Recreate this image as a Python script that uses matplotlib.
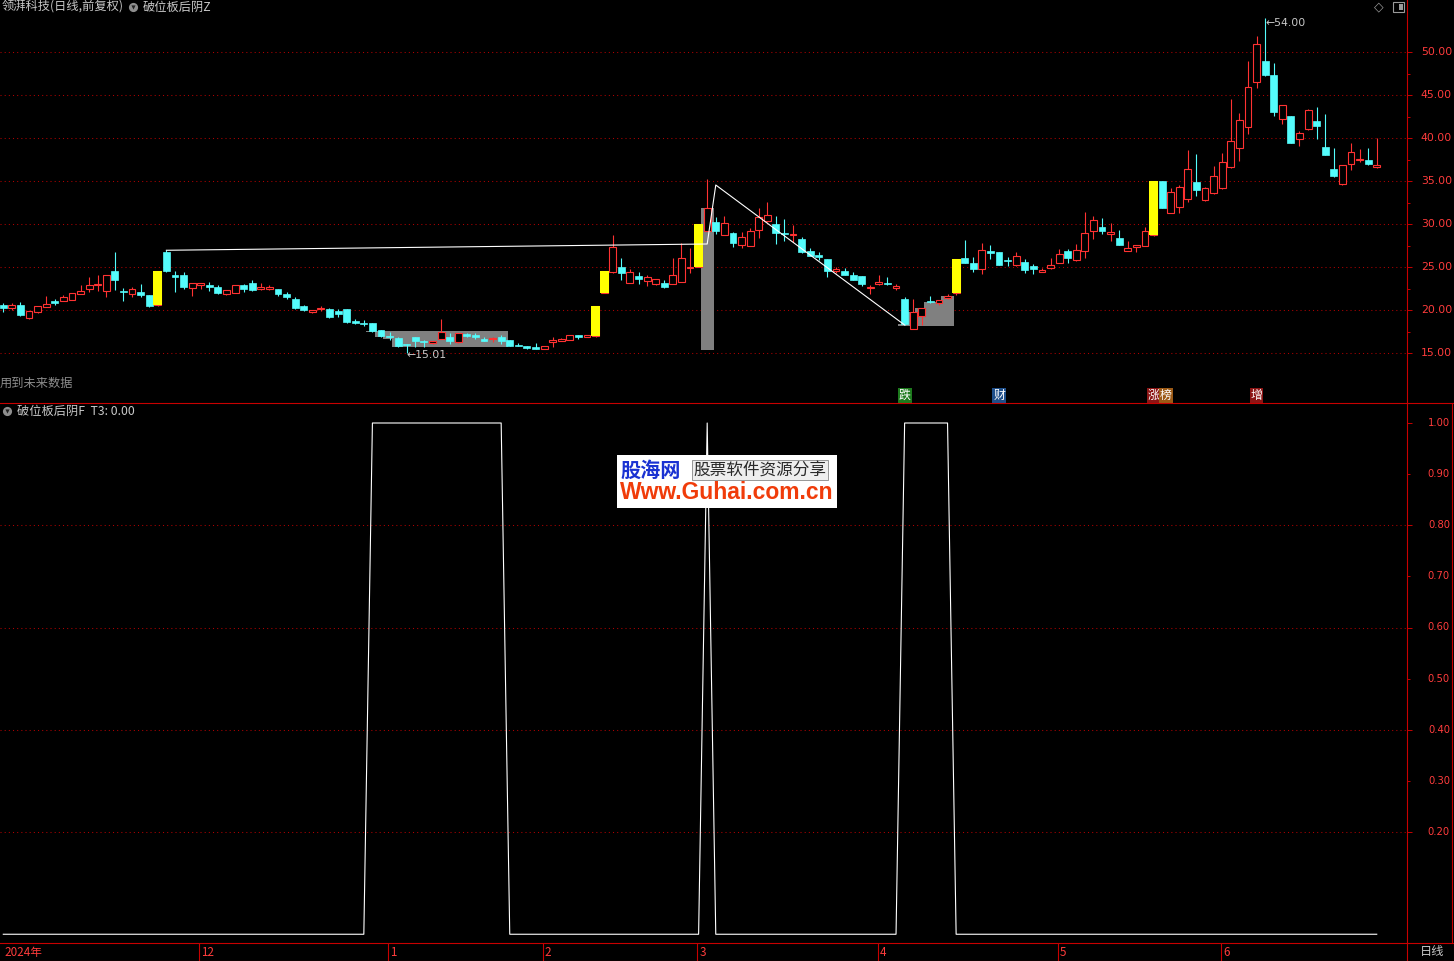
import matplotlib
matplotlib.use('Agg')
import numpy as np
import matplotlib.pyplot as plt
import matplotlib.transforms as mtrans
from matplotlib.patches import Rectangle
from matplotlib.lines import Line2D

plt.rcParams['font.family'] = ['Noto Sans CJK SC', 'DejaVu Sans']

# daily bars (front-adjusted), one entry per trading day
opens = [20.62, 20.30, 20.62, 19.15, 19.84, 20.43, 21.09, 21.12, 21.20, 21.94,
         22.52, 22.90, 22.29, 24.57, 22.25, 21.94, 22.13, 21.78, 20.62, 26.78,
         24.10, 24.10, 22.64, 22.98, 22.95, 22.71, 21.94, 22.05, 22.95, 23.20,
         22.48, 22.48, 22.48, 21.90, 21.32, 20.50, 19.77, 20.12, 20.16, 19.96,
         20.16, 18.76, 18.57, 18.49, 17.71, 17.02, 16.78, 16.05, 16.90, 16.43,
         16.24, 16.67, 16.94, 16.36, 17.25, 17.09, 16.63, 16.63, 16.90, 16.55,
         15.93, 15.85, 15.78, 15.54, 16.28, 16.40, 16.59, 17.13, 16.86, 17.05,
         21.98, 24.50, 25.00, 23.22, 23.99, 23.37, 23.10, 23.14, 23.10, 23.33,
         24.88, 25.08, 29.26, 30.23, 28.76, 28.95, 27.56, 27.48, 29.30, 30.35,
         30.04, 29.03, 28.72, 28.26, 26.90, 26.47, 25.93, 24.53, 24.57, 24.11,
         23.99, 22.56, 23.02, 23.14, 22.64, 21.32, 17.87, 19.38, 21.12, 20.89,
         21.43, 22.00, 26.12, 25.50, 24.77, 26.94, 26.78, 25.85, 25.23, 25.58,
         25.16, 24.50, 24.88, 25.54, 26.90, 25.89, 26.94, 29.26, 29.69, 28.88,
         28.41, 26.94, 27.33, 27.52, 28.76, 35.04, 31.36, 31.98, 32.98, 34.92,
         32.80, 33.60, 34.19, 36.63, 38.84, 41.28, 46.51, 48.99, 47.36, 42.21,
         42.60, 39.88, 41.05, 42.02, 39.03, 36.43, 34.65, 36.98, 37.48, 37.48,
         36.63]
highs = [20.81, 20.85, 20.97, 19.95, 20.50, 21.67, 21.32, 21.82, 22.00, 22.95,
         23.88, 24.10, 24.10, 26.78, 22.60, 22.67, 23.06, 21.80, 24.60, 26.98,
         24.57, 24.46, 23.14, 23.14, 23.29, 22.90, 22.35, 22.95, 23.10, 23.50,
         23.14, 22.95, 22.50, 22.09, 21.51, 20.62, 20.05, 20.50, 20.28, 20.16,
         20.20, 18.99, 18.84, 18.50, 17.75, 17.44, 16.94, 16.05, 16.90, 16.60,
         16.45, 18.99, 17.33, 17.35, 17.40, 17.40, 16.94, 16.85, 17.13, 16.56,
         16.20, 15.86, 16.20, 15.86, 16.90, 16.82, 17.14, 17.14, 17.14, 20.50,
         24.60, 28.76, 26.09, 24.81, 24.46, 24.10, 23.62, 23.49, 26.09, 27.79,
         27.25, 30.05, 35.23, 30.81, 30.97, 29.15, 29.11, 29.57, 31.90, 32.56,
         30.97, 30.58, 29.92, 28.53, 27.21, 26.82, 26.00, 24.99, 24.96, 24.40,
         24.00, 22.95, 24.11, 23.88, 23.10, 21.59, 21.36, 20.28, 21.67, 21.22,
         21.94, 26.00, 28.18, 26.16, 27.79, 27.60, 26.80, 26.24, 26.78, 25.97,
         25.39, 24.96, 26.09, 27.13, 27.09, 27.71, 31.43, 30.97, 30.74, 30.16,
         29.34, 28.06, 27.58, 29.65, 35.05, 35.05, 34.22, 34.60, 38.64, 38.18,
         34.30, 36.78, 38.26, 44.53, 42.91, 48.99, 51.90, 54.00, 48.72, 43.85,
         42.62, 40.85, 43.45, 43.64, 42.83, 38.88, 36.87, 39.42, 38.76, 38.88,
         40.00]
lows = [19.84, 20.00, 19.34, 19.00, 19.65, 20.40, 20.62, 21.10, 21.20, 21.90,
        22.17, 22.29, 21.59, 22.36, 21.12, 21.59, 21.59, 20.43, 20.55, 24.50,
        22.17, 22.48, 21.70, 22.52, 22.29, 21.90, 21.78, 22.00, 22.17, 22.30,
        22.36, 22.36, 21.70, 21.32, 20.16, 19.88, 19.65, 19.92, 19.15, 19.26,
        18.49, 18.45, 18.22, 17.52, 16.95, 16.55, 15.78, 15.01, 15.78, 15.78,
        16.12, 16.67, 16.12, 16.24, 16.90, 16.63, 16.45, 16.36, 16.12, 15.84,
        15.80, 15.50, 15.52, 15.53, 15.78, 16.38, 16.58, 16.70, 16.85, 16.90,
        21.98, 24.38, 23.53, 23.20, 23.06, 22.87, 22.98, 22.64, 23.08, 23.30,
        24.38, 25.00, 29.20, 28.84, 28.70, 27.33, 27.30, 27.45, 28.45, 30.30,
        27.67, 28.10, 27.98, 26.70, 26.30, 25.90, 23.84, 24.30, 24.10, 23.50,
        22.87, 21.90, 23.00, 22.95, 22.36, 18.29, 17.87, 18.29, 20.90, 20.62,
        21.30, 21.80, 25.45, 24.50, 24.19, 25.97, 25.30, 25.19, 25.20, 24.38,
        24.26, 24.48, 24.85, 25.50, 25.54, 25.70, 26.12, 28.33, 28.91, 28.10,
        27.55, 26.90, 26.82, 27.50, 28.60, 31.85, 31.30, 31.30, 32.64, 33.33,
        32.75, 33.50, 34.10, 36.60, 37.40, 40.54, 45.81, 47.21, 42.60, 41.63,
        39.40, 39.15, 41.00, 39.88, 38.05, 35.54, 34.60, 36.36, 37.25, 36.90,
        36.60]
closes = [20.27, 20.60, 19.46, 19.92, 20.47, 20.74, 20.85, 21.51, 21.98, 22.25,
          22.90, 23.10, 24.10, 23.57, 22.10, 22.44, 21.82, 20.54, 24.57, 24.57,
          23.90, 22.75, 23.14, 23.14, 22.75, 22.05, 22.33, 22.95, 22.48, 22.40,
          22.67, 22.67, 21.86, 21.59, 20.31, 20.04, 20.04, 20.31, 19.26, 19.61,
          18.68, 18.57, 18.37, 17.64, 17.02, 16.86, 15.85, 15.93, 16.47, 16.28,
          16.43, 17.48, 16.47, 17.33, 17.02, 16.94, 16.47, 16.82, 16.47, 15.85,
          15.81, 15.62, 15.54, 15.85, 16.55, 16.67, 17.13, 16.90, 17.13, 20.50,
          24.57, 27.33, 24.38, 24.42, 23.68, 23.84, 23.60, 22.75, 24.07, 26.05,
          25.08, 30.04, 31.86, 29.26, 30.12, 27.87, 28.57, 29.19, 30.89, 31.05,
          28.95, 28.84, 28.88, 26.74, 26.36, 26.24, 24.61, 24.81, 24.15, 23.57,
          23.10, 22.75, 23.29, 23.02, 22.83, 18.37, 19.77, 20.27, 20.97, 21.20,
          21.67, 25.97, 25.50, 24.81, 27.02, 26.71, 25.31, 25.70, 26.28, 24.73,
          24.84, 24.69, 25.23, 26.51, 26.12, 27.02, 28.95, 30.47, 29.22, 29.07,
          27.60, 27.25, 27.56, 29.22, 35.04, 31.94, 33.72, 34.30, 36.40, 34.03,
          34.19, 35.62, 37.21, 39.65, 42.09, 45.93, 50.93, 47.40, 43.02, 43.84,
          39.50, 40.58, 43.26, 41.47, 38.10, 35.66, 36.86, 38.37, 37.64, 37.05,
          36.90]

# yellow sticks (limit-up boards)
limit_days = [18, 69, 70, 81, 111, 134]
limit_bottom = [20.62, 17.05, 21.98, 25.08, 22.00, 28.76]
limit_top = [24.57, 20.50, 24.57, 30.04, 25.97, 35.04]

# grey sticks
box_days = [43, 44, 45, 46, 47, 48, 49, 50, 51, 52, 53, 54, 55, 56, 57, 58,
            82, 105, 106, 107, 108, 109, 110]
box_bottom = [17.52, 16.94, 16.67, 15.78, 15.78, 15.78, 15.78, 15.78, 15.78, 15.78,
              15.78, 15.78, 15.78, 15.78, 15.78, 15.78, 15.38, 18.21, 18.21, 18.21,
              18.21, 18.21, 18.21]
box_top = [17.64, 17.64, 17.64, 17.64, 17.64, 17.64, 17.64, 17.64, 17.64, 17.64,
           17.64, 17.64, 17.64, 17.64, 17.64, 17.64, 31.93, 18.37, 19.77, 20.30,
           20.93, 20.93, 21.66]

# white drawn line
trend_days = [19, 82, 83, 105]
trend_prices = [26.98, 27.71, 34.57, 18.29]

# lower pane: 破位板后阴F
signal = [0, 0, 0, 0, 0, 0, 0, 0, 0, 0, 0, 0, 0, 0, 0, 0, 0, 0, 0, 0,
          0, 0, 0, 0, 0, 0, 0, 0, 0, 0, 0, 0, 0, 0, 0, 0, 0, 0, 0, 0,
          0, 0, 0, 1, 1, 1, 1, 1, 1, 1, 1, 1, 1, 1, 1, 1, 1, 1, 1, 0,
          0, 0, 0, 0, 0, 0, 0, 0, 0, 0, 0, 0, 0, 0, 0, 0, 0, 0, 0, 0,
          0, 0, 1, 0, 0, 0, 0, 0, 0, 0, 0, 0, 0, 0, 0, 0, 0, 0, 0, 0,
          0, 0, 0, 0, 0, 1, 1, 1, 1, 1, 1, 0, 0, 0, 0, 0, 0, 0, 0, 0,
          0, 0, 0, 0, 0, 0, 0, 0, 0, 0, 0, 0, 0, 0, 0, 0, 0, 0, 0, 0,
          0, 0, 0, 0, 0, 0, 0, 0, 0, 0, 0, 0, 0, 0, 0, 0, 0, 0, 0, 0,
          0]

price_levels = [15, 20, 25, 30, 35, 40, 45, 50]
signal_levels = [0.2, 0.3, 0.4, 0.5, 0.6, 0.7, 0.8, 0.9, 1.0]

month_days = [0, 23, 45, 63, 81, 102, 123, 142]
month_names = ['2024年', '12', '1', '2', '3', '4', '5', '6']

badge_days = [105, 116, 134, 134, 146]
badge_text = ['跌', '财', '涨', '榜', '增']
badge_colors = ['#1d7a1d', '#1f4f8a', '#8c1515', '#9c5a16', '#8c1515']

UP = '#ff3232'
DOWN = '#54fcfc'
AXRED = '#c80000'
GRID = '#b00000'
LBL = '#ff3c3c'
TXT = '#c8c8c8'

W, H = 1454, 961
X0, STEP = 3.3, 8.584


def px2idx(px):
    return (px - X0) / STEP


def price_at(py):
    return 50 - (py - 52.3) / 8.6


def sig_at(py):
    return 1 - (py - 423) / 511.25


def fx(px):
    return px / W


def fy(py):
    return 1 - py / H


fig = plt.figure(figsize=(W / 100, H / 100), dpi=100, facecolor='black')
ax1 = fig.add_axes([0, fy(403), fx(1407), 403 / H], facecolor='black')
ax2 = fig.add_axes([0, fy(943), fx(1407), 539.5 / H], facecolor='black')
ax3 = fig.add_axes([0, 0, 1, 18 / H], facecolor='black')

ax1.set_xlim(px2idx(0), px2idx(1407))
ax1.set_ylim(price_at(403), price_at(0))
ax2.set_xlim(px2idx(0), px2idx(1407))
ax2.set_ylim(sig_at(943), sig_at(403.5))
ax3.set_xlim(px2idx(0), px2idx(W))
ax3.set_ylim(0, 1)

for ax in (ax1, ax2, ax3):
    for s in ax.spines.values():
        s.set_visible(False)
    ax.set_xticks([])
ax3.set_yticks([])
for ax in (ax1, ax2):
    ax.spines['right'].set_visible(True)
    ax.spines['right'].set_color(AXRED)
    ax.spines['right'].set_linewidth(0.8)
    ax.yaxis.set_ticks_position('right')
for side in ('top', 'bottom'):
    ax3.spines[side].set_visible(True)
    ax3.spines[side].set_color(AXRED)
    ax3.spines[side].set_linewidth(0.8)

# ---- price pane
ax1.set_yticks(price_levels)
ax1.set_yticks([p + 2.5 for p in price_levels[:-1]], minor=True)
ax1.tick_params(axis='y', which='major', length=3.6, width=0.7, color=AXRED,
                labelright=False, labelleft=False)
ax1.tick_params(axis='y', which='minor', length=2, width=0.7, color=AXRED,
                labelright=False, labelleft=False)
ax1.hlines(price_levels, px2idx(0), px2idx(1407), colors=GRID, lw=0.75,
           linestyles=(0, (1, 3)), zorder=0)
tr1 = mtrans.blended_transform_factory(fig.transFigure, ax1.transData)
for p in price_levels:
    ax1.text(fx(1452), p, f'{p:.2f}', transform=tr1, ha='right', va='center',
             color=LBL, fontsize=7.8, family='DejaVu Sans')

for d, lo, hi in zip(box_days, box_bottom, box_top):
    ax1.add_patch(Rectangle((d - 0.755, lo), 1.51, hi - lo, facecolor='#808080',
                            edgecolor='none', zorder=1))

for i, (o, h, l, c) in enumerate(zip(opens, highs, lows, closes)):
    if c >= o:
        ax1.vlines(i, l, h, color=UP, lw=0.8, zorder=2)
        ax1.add_patch(Rectangle((i - 0.4, o), 0.8, c - o, facecolor='black',
                                edgecolor=UP, lw=0.8, zorder=3))
    else:
        ax1.vlines(i, l, h, color=DOWN, lw=0.8, zorder=2)
        ax1.add_patch(Rectangle((i - 0.4, c), 0.8, o - c, facecolor=DOWN,
                                edgecolor=DOWN, lw=0.5, zorder=3))

for d, lo, hi in zip(limit_days, limit_bottom, limit_top):
    ax1.add_patch(Rectangle((d - 0.52, lo), 1.04, hi - lo, facecolor='#ffff00',
                            edgecolor='none', zorder=4))

ax1.plot(trend_days, trend_prices, color='white', lw=0.8, zorder=5)

lo_i = int(np.argmin(lows))
hi_i = int(np.argmax(highs))
ax1.annotate(f'←{lows[lo_i]:.2f}', (lo_i, lows[lo_i]), xytext=(0, -1.4),
             textcoords='offset points', ha='left', va='center', color=TXT,
             fontsize=7.8, family='DejaVu Sans', zorder=6)
ax1.annotate(f'←{highs[hi_i]:.2f}', (hi_i, highs[hi_i]), xytext=(0, -3.9),
             textcoords='offset points', ha='left', va='center', color=TXT,
             fontsize=7.8, family='DejaVu Sans', zorder=6)

trb = mtrans.blended_transform_factory(ax1.transData, fig.transFigure)
prev = None
for d, t, col in zip(badge_days, badge_text, badge_colors):
    x = d + (12.5 / STEP if d == prev else 0)
    ax1.text(x, fy(395.5), t, transform=trb, ha='center', va='center',
             color='white', fontsize=8.6, zorder=6,
             bbox=dict(boxstyle='square,pad=0.08', facecolor=col, edgecolor='none'))
    prev = d

# ---- signal pane
ax2.set_yticks([0.2, 0.4, 0.6, 0.8, 1.0])
ax2.set_yticks([0.3, 0.5, 0.7, 0.9], minor=True)
ax2.tick_params(axis='y', which='major', length=3.8, width=0.7, color=AXRED,
                labelright=False, labelleft=False)
ax2.tick_params(axis='y', which='minor', length=2, width=0.7, color=AXRED,
                labelright=False, labelleft=False)
ax2.hlines([0.2, 0.4, 0.6, 0.8], px2idx(0), px2idx(1407), colors=GRID, lw=0.75,
           linestyles=(0, (1, 3)), zorder=0)
tr2 = mtrans.blended_transform_factory(fig.transFigure, ax2.transData)
for v in signal_levels:
    ax2.text(fx(1450), v, f'{v:.2f}', transform=tr2, ha='right', va='center',
             color=LBL, fontsize=7.2, family='DejaVu Sans')
ax2.plot(range(len(signal)), signal, color='white', lw=0.8)

# ---- date strip
for d, name in zip(month_days, month_names):
    if d > 0:
        ax3.vlines(d - 0.15, 0, 1, color=AXRED, lw=0.8)
    ax3.text(d + 0.08, 0.45, name, color=LBL, fontsize=8.4, ha='left', va='center')
ax3.vlines(px2idx(1407), 0, 1, color=AXRED, lw=0.8)
fig.text(fx(1420), fy(952), '日线', color=TXT, fontsize=8.8, va='center')

# frame lines
fig.add_artist(Line2D([0, 1], [fy(403.5), fy(403.5)], color=AXRED, lw=0.8))
fig.add_artist(Line2D([fx(1452), fx(1452)], [fy(403.5), fy(943)], color=AXRED, lw=0.8))


def pane_icon(px, py):
    fig.add_artist(Line2D([fx(px)], [fy(py)], marker='o', markersize=6.6,
                          color='#8e8e8e', markeredgecolor='none'))
    fig.add_artist(Line2D([fx(px)], [fy(py - 0.5)], marker='v', markersize=3,
                          color='#222222', markeredgecolor='none'))


fig.text(fx(2), fy(7), '领湃科技(日线,前复权)', color=TXT, fontsize=8.8, va='center')
pane_icon(133, 7)
fig.text(fx(143), fy(7), '破位板后阴Z', color=TXT, fontsize=8.8, va='center')
pane_icon(7, 411)
fig.text(fx(17), fy(411), '破位板后阴F  T3: 0.00', color=TXT, fontsize=8.8, va='center')
fig.text(fx(0), fy(383), '用到未来数据', color='#8c8c8c', fontsize=8.8, va='center')

fig.text(fx(1379), fy(7), '◇', color='#9a9a9a', fontsize=9, ha='center', va='center',
         family='DejaVu Sans')
fig.add_artist(Rectangle((fx(1393), fy(12)), fx(11), 10 / H, transform=fig.transFigure,
                         facecolor='none', edgecolor='#9a9a9a', lw=0.8))
fig.add_artist(Rectangle((fx(1399), fy(10)), fx(3.5), 6 / H, transform=fig.transFigure,
                         facecolor='#9a9a9a', edgecolor='none'))

# watermark
fig.add_artist(Rectangle((fx(617), fy(508)), fx(220), 53 / H, transform=fig.transFigure,
                         facecolor='white', edgecolor='none', zorder=10))
fig.text(fx(620), fy(470), '股海网', color='#1a32d2', fontsize=14.5,
         fontweight='bold', va='center', zorder=11)
fig.text(fx(760), fy(470), '股票软件资源分享', color='#2a2a2a', fontsize=12,
         ha='center', va='center', zorder=11,
         bbox=dict(boxstyle='square,pad=0.1', facecolor='#eeeeee', edgecolor='#888888', lw=0.6))
fig.text(fx(727), fy(493), 'Www.Guhai.com.cn', color='#f03c0a', fontsize=16.5,
         fontweight='bold', family='Liberation Sans', ha='center', va='center', zorder=11)

fig.savefig('out.png', dpi=100, facecolor='black')
